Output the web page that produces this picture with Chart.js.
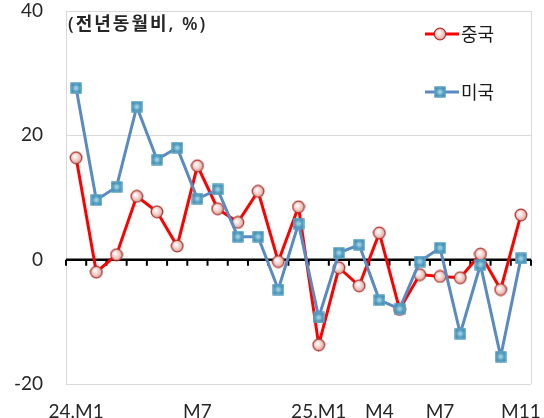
<!DOCTYPE html>
<html><head><meta charset="utf-8">
<script src="https://cdn.jsdelivr.net/npm/chart.js@4"></script>
<style>html,body{margin:0;padding:0;background:#fff}#wrap{width:544px;height:418px}</style>
</head><body><div id="wrap"><canvas id="c" width="544" height="418"></canvas></div>
<script>
const months = ['24.M1','M2','M3','M4','M5','M6','M7','M8','M9','M10','M11','M12',
                '25.M1','M2','M3','M4','M5','M6','M7','M8','M9','M10','M11'];
const shownTickIndex = [0, 6, 12, 15, 18, 22];
const china = [16.4, -2.0, 0.8, 10.2, 7.7, 2.2, 15.1, 8.2, 6.0, 11.0, -0.3, 8.5,
               -13.7, -1.3, -4.2, 4.3, -8.0, -2.4, -2.7, -2.9, 0.9, -4.8, 7.2];
const usa = [27.6, 9.6, 11.7, 24.6, 16.1, 18.0, 9.8, 11.3, 3.7, 3.7, -4.8, 5.8,
             -9.3, 1.1, 2.4, -6.5, -7.9, -0.3, 1.9, -11.9, -0.8, -15.6, 0.2];
const yTicks = [-20, 0, 20, 40];
const seriesNames = ['중국', '미국'];
const unitNote = '(전년동월비, %)';

function circleImg() {
  const c = document.createElement('canvas'); c.width = 14; c.height = 14;
  const g = c.getContext('2d');
  const grad = g.createRadialGradient(5.5, 5.5, 0.5, 7, 7, 7);
  grad.addColorStop(0, '#ffffff'); grad.addColorStop(0.55, '#f0c6c0'); grad.addColorStop(1, '#c98a84');
  g.beginPath(); g.arc(7, 7, 5.8, 0, Math.PI * 2);
  g.fillStyle = grad; g.fill();
  g.lineWidth = 1.3; g.strokeStyle = '#b0352f'; g.stroke();
  return c;
}
function squareImg() {
  const c = document.createElement('canvas'); c.width = 12; c.height = 12;
  const g = c.getContext('2d');
  const grad = g.createRadialGradient(6, 6, 0.5, 6, 6, 7);
  grad.addColorStop(0, '#a9d6e6'); grad.addColorStop(0.5, '#4f9cbf'); grad.addColorStop(1, '#2f7696');
  g.fillStyle = grad; g.fillRect(0.5, 0.5, 11, 11);
  g.lineWidth = 1; g.strokeStyle = '#6aaed0'; g.strokeRect(1, 1, 10, 10);
  return c;
}
const cImg = circleImg(), sImg = squareImg();

const deco = {
  id: 'deco',
  beforeDatasetsDraw(chart) {
    const { ctx, chartArea: a, scales: { x, y } } = chart;
    ctx.save();
    ctx.strokeStyle = '#d9d9d9'; ctx.lineWidth = 1;
    ctx.beginPath(); ctx.moveTo(Math.round(a.right) + 0.5, a.top); ctx.lineTo(Math.round(a.right) + 0.5, a.bottom); ctx.stroke();
    const y0 = y.getPixelForValue(0);
    ctx.strokeStyle = '#000'; ctx.lineWidth = 2.5;
    ctx.beginPath(); ctx.moveTo(a.left, y0); ctx.lineTo(a.right, y0); ctx.stroke();
    ctx.lineWidth = 2;
    ctx.beginPath();
    const n = months.length;
    const step = x.getPixelForValue(1) - x.getPixelForValue(0);
    for (let i = 0; i <= n; i++) {
      const px = x.getPixelForValue(0) - step / 2 + i * step;
      ctx.moveTo(px, y0); ctx.lineTo(px, y0 + 6);
    }
    ctx.stroke();
    ctx.restore();
  },
  afterDraw(chart) {
    const { ctx } = chart;
    ctx.save();
    ctx.fillStyle = '#262626';
    ctx.font = '600 18px "Open Sans", "Noto Sans CJK KR"';
    ctx.textBaseline = 'middle';
    try { ctx.letterSpacing = '2px'; } catch (e) {}
    ctx.fillText(unitNote, 68, 25);
    try { ctx.letterSpacing = '0px'; } catch (e) {}
    const items = [
      { name: seriesNames[0], color: '#ff0000', img: cImg, y: 34 },
      { name: seriesNames[1], color: '#5a8ac2', img: sImg, y: 92 }
    ];
    items.forEach(it => {
      ctx.strokeStyle = it.color; ctx.lineWidth = 3;
      ctx.beginPath(); ctx.moveTo(425, it.y); ctx.lineTo(459, it.y); ctx.stroke();
      ctx.drawImage(it.img, 440 - it.img.width / 2, it.y - it.img.height / 2);
      ctx.fillStyle = '#1a1a1a';
      ctx.font = '18px "Noto Sans CJK KR"';
      ctx.fillText(it.name, 461, it.y);
    });
    ctx.restore();
  }
};

new Chart(document.getElementById('c'), {
  type: 'line',
  data: {
    labels: months,
    datasets: [
      { label: seriesNames[0], data: china, borderColor: '#ff0000', borderWidth: 3,
        pointStyle: cImg, pointRadius: 6, tension: 0, order: 2 },
      { label: seriesNames[1], data: usa, borderColor: '#5a8ac2', borderWidth: 3,
        pointStyle: sImg, pointRadius: 6, tension: 0, order: 1 }
    ]
  },
  options: {
    responsive: false, devicePixelRatio: 1, animation: false,
    layout: { padding: { top: 0, right: 13, left: 0, bottom: 0 } },
    plugins: { legend: { display: false }, tooltip: { enabled: false } },
    scales: {
      x: {
        offset: true,
        grid: { display: false },
        border: { display: false },
        afterFit: s => { s.height = 34; s.paddingLeft = 0; s.paddingRight = 0; },
        ticks: {
          autoSkip: false, maxRotation: 0, padding: 8,
          color: '#262626', font: { family: 'Lato', size: 19 },
          callback: (v, i) => shownTickIndex.includes(i) ? months[i] : ''
        }
      },
      y: {
        min: -20, max: 40,
        afterBuildTicks: s => { s.ticks = yTicks.map(v => ({ value: v })); },
        afterFit: s => { s.width = 66; s.paddingTop = 11; s.paddingBottom = 11; },
        grid: { drawTicks: false, color: c => c.tick && c.tick.value === 0 ? 'rgba(0,0,0,0)' : '#d9d9d9', lineWidth: 1 },
        border: { display: true, color: '#d9d9d9' },
        ticks: { padding: 23, color: '#262626', font: { family: 'Lato', size: 19 } }
      }
    }
  },
  plugins: [deco]
});
</script></body></html>
